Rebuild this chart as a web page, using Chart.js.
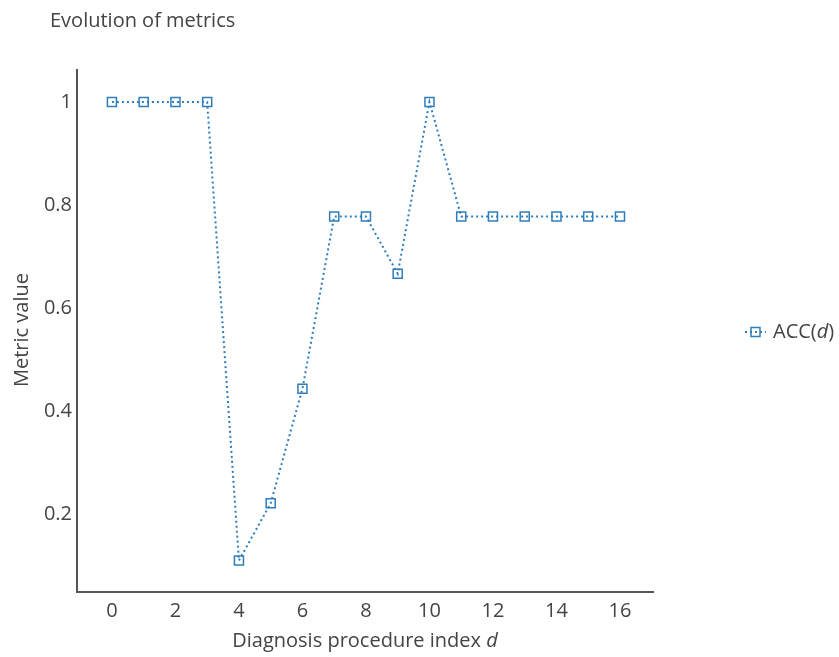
<!DOCTYPE html>
<html>
<head>
<meta charset="utf-8">
<script src="https://cdn.jsdelivr.net/npm/chart.js@4/dist/chart.umd.min.js"></script>
<style>
  html, body { margin: 0; padding: 0; background: #fff; }
  #wrap { width: 839px; height: 657px; position: relative; }
</style>
</head>
<body>
<div id="wrap"><canvas id="chart" width="839" height="657"></canvas></div>
<script>
// Diagnosis procedure indices and the accuracy measured after each one
const procedureIndex = [0, 1, 2, 3, 4, 5, 6, 7, 8, 9, 10, 11, 12, 13, 14, 15, 16];
const accValues = [1, 1, 1, 1, 0.111, 0.222, 0.444, 0.778, 0.778, 0.667, 1, 0.778, 0.778, 0.778, 0.778, 0.778, 0.778];
const xTickValues = [0, 2, 4, 6, 8, 10, 12, 14, 16];
const yTickValues = [0.2, 0.4, 0.6, 0.8, 1];

const FONT = '"Open Sans", "Noto Sans", sans-serif';
const FS = 20;
const TEXT = '#444';
const LINE = '#2f7ebc';

// Fixed plot area box
const AREA = { left: 77, top: 70, right: 653, bottom: 592 };

const overlay = {
  id: 'overlay',
  afterDraw(chart) {
    const ctx = chart.ctx;
    ctx.save();
    ctx.fillStyle = TEXT;
    ctx.textBaseline = 'middle';

    // title
    ctx.font = FS + 'px ' + FONT;
    ctx.textAlign = 'left';
    ctx.fillText('Evolution of metrics', 50, 21);

    // x axis title with italic variable
    const xa = chart.chartArea;
    const plain = 'Diagnosis procedure index ';
    ctx.font = FS + 'px ' + FONT;
    const w1 = ctx.measureText(plain).width;
    ctx.font = 'italic ' + FS + 'px ' + FONT;
    const w2 = ctx.measureText('d').width;
    let sx = (xa.left + xa.right) / 2 - (w1 + w2) / 2;
    ctx.font = FS + 'px ' + FONT;
    ctx.fillText(plain, sx, 641);
    ctx.font = 'italic ' + FS + 'px ' + FONT;
    ctx.fillText('d', sx + w1, 641);

    // y axis title
    ctx.save();
    ctx.translate(22, 330);
    ctx.rotate(-Math.PI / 2);
    ctx.textAlign = 'center';
    ctx.font = FS + 'px ' + FONT;
    ctx.fillText('Metric value', 0, 0);
    ctx.restore();

    // legend
    const ly = 332;
    ctx.strokeStyle = LINE;
    ctx.lineWidth = 2;
    ctx.setLineDash([2, 3]);
    ctx.beginPath();
    ctx.moveTo(745, ly);
    ctx.lineTo(766, ly);
    ctx.stroke();
    ctx.setLineDash([]);
    ctx.lineWidth = 1.5;
    ctx.strokeRect(751, ly - 4.5, 9, 9);

    let lx = 773;
    ctx.textAlign = 'left';
    ctx.font = FS + 'px ' + FONT;
    ctx.fillText('ACC(', lx, ly);
    lx += ctx.measureText('ACC(').width;
    ctx.font = 'italic ' + FS + 'px ' + FONT;
    ctx.fillText('d', lx, ly);
    lx += ctx.measureText('d').width;
    ctx.font = FS + 'px ' + FONT;
    ctx.fillText(')', lx, ly);
    ctx.restore();
  }
};

new Chart(document.getElementById('chart'), {
  type: 'line',
  data: {
    datasets: [{
      label: 'ACC(d)',
      data: procedureIndex.map((x, i) => ({ x: x, y: accValues[i] })),
      borderColor: LINE,
      borderWidth: 2,
      borderDash: [2, 3],
      pointStyle: 'rect',
      pointRadius: 6.4,
      pointHoverRadius: 6.4,
      pointBorderWidth: 1.5,
      pointBorderColor: LINE,
      pointBackgroundColor: 'rgba(0,0,0,0)',
      tension: 0,
      fill: false
    }]
  },
  options: {
    responsive: false,
    animation: false,
    events: [],
    layout: {
      padding: { left: 0, top: AREA.top, right: 839 - AREA.right, bottom: 0 }
    },
    plugins: {
      legend: { display: false },
      title: { display: false },
      tooltip: { enabled: false }
    },
    scales: {
      x: {
        type: 'linear',
        min: -1.1,
        max: 17.04,
        afterFit(scale) { scale.height = 657 - AREA.bottom; },
        afterBuildTicks(scale) { scale.ticks = xTickValues.map(v => ({ value: v })); },
        grid: { display: false, drawTicks: false },
        border: { display: true, color: '#555', width: 2 },
        ticks: {
          padding: 7,
          color: TEXT,
          font: { family: FONT, size: FS },
          maxRotation: 0,
          callback: v => String(v)
        }
      },
      y: {
        type: 'linear',
        min: 0.05,
        max: 1.062,
        afterFit(scale) { scale.width = AREA.left; },
        afterBuildTicks(scale) { scale.ticks = yTickValues.map(v => ({ value: v })); },
        grid: { display: false, drawTicks: false },
        border: { display: true, color: '#555', width: 2 },
        ticks: {
          padding: 5,
          color: TEXT,
          font: { family: FONT, size: FS },
          callback: v => String(Math.round(v * 10) / 10)
        }
      }
    }
  },
  plugins: [overlay]
});
</script>
</body>
</html>
